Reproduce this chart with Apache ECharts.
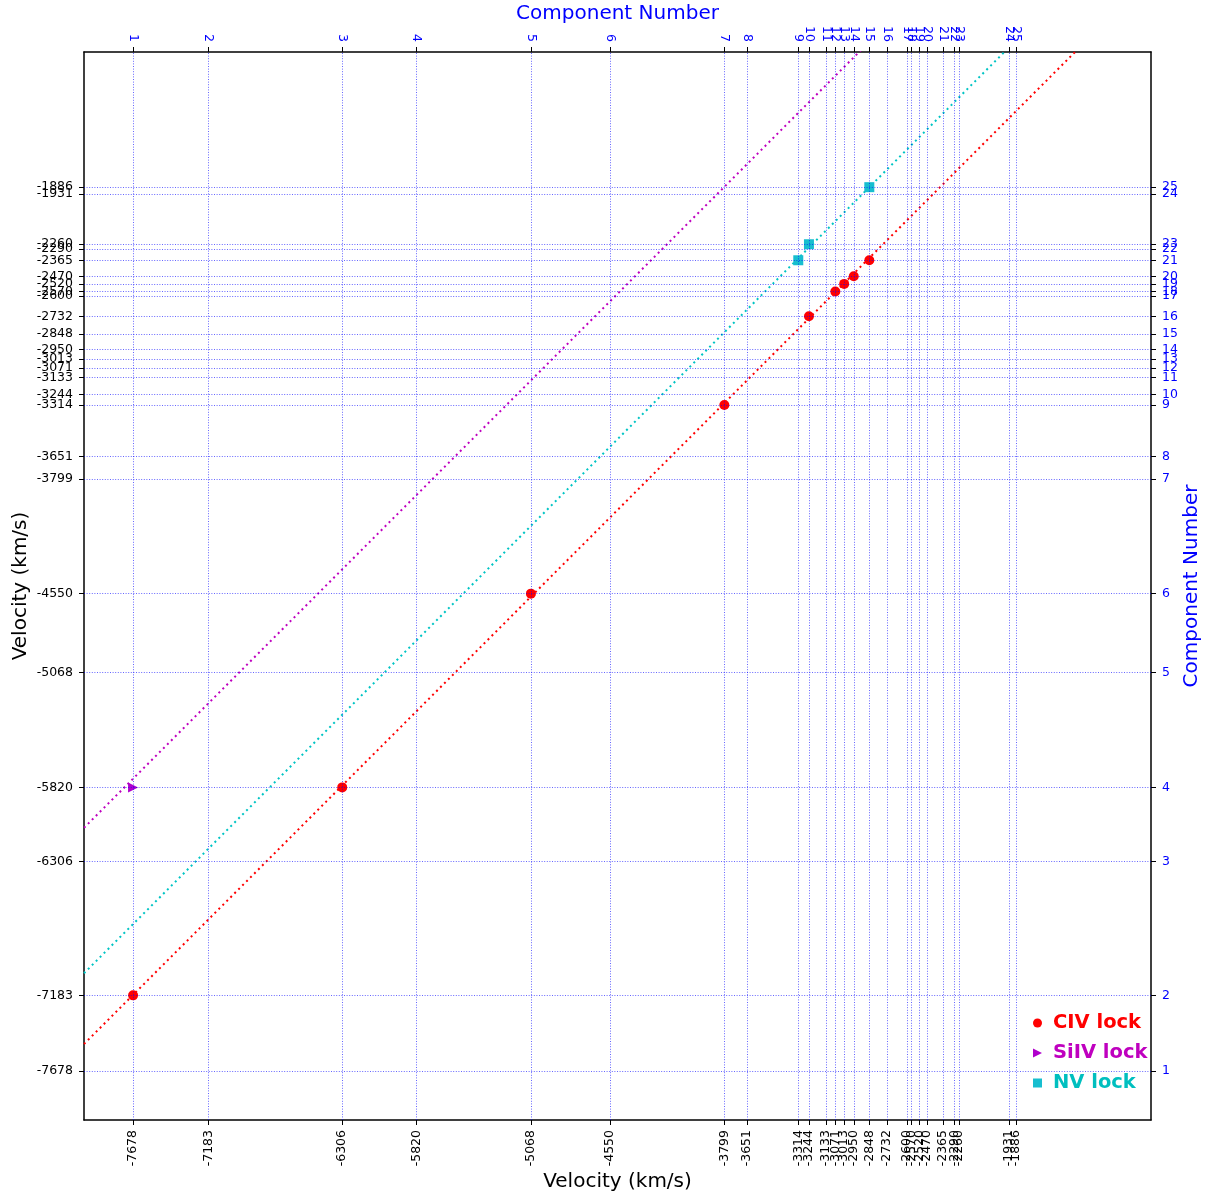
<!DOCTYPE html>
<html>
<head>
<meta charset="utf-8">
<script src="https://cdn.jsdelivr.net/npm/echarts@6/dist/echarts.min.js"></script>
<style>html,body{margin:0;padding:0;background:#fff;}#c{width:1211px;height:1197px;}</style>
</head>
<body>
<div id="c"></div>
<script>
// component velocities (km/s) and their component numbers
var compVelocities = [-7678, -7183, -6306, -5820, -5068, -4550, -3799, -3651, -3314, -3244, -3133, -3071, -3013, -2950, -2848, -2732, -2600, -2570, -2520, -2470, -2365, -2290, -2260, -1931, -1886];
var compNumbers = [1, 2, 3, 4, 5, 6, 7, 8, 9, 10, 11, 12, 13, 14, 15, 16, 17, 18, 19, 20, 21, 22, 23, 24, 25];

// locked pairs (x = blue component velocity, y = red component velocity)
var civX = [-7678, -6306, -5068, -3799, -3244, -3071, -3013, -2950, -2848];
var civY = [-7183, -5820, -4550, -3314, -2732, -2570, -2520, -2470, -2365];
var siivX = [-7678];
var siivY = [-5820];
var nvX = [-3314, -3244, -2848];
var nvY = [-2365, -2260, -1886];

// doublet separations (km/s) for the lock lines y = x + sep
var civSep = 498;
var siivSep = 1915;
var nvSep = 962;

var axisMin = -8000, axisMax = -1000;
var FONT = 'DejaVu Sans';
var TRI = 'path://M0,0 L10,5 L0,10 Z';

// label positions: component velocities plus a blank one at the axis end
// (keeps ECharts from hiding one of the two closely spaced last labels)
var labelValues = compVelocities.concat([axisMax]);

function pairs(xs, ys) { return xs.map(function (x, i) { return [x, ys[i]]; }); }
function lockLine(sep) { return [[axisMin, axisMin + sep], [axisMax, axisMax + sep]]; }
function compLabel(v) { var i = compVelocities.indexOf(v); return i >= 0 ? String(compNumbers[i]) : ' '; }
function velLabel(v) { return compVelocities.indexOf(v) >= 0 ? String(v) : ' '; }

var gridStyle = { color: 'rgba(0,0,255,0.6)', width: 1, type: [1, 1.6] };
var gridMarks = compVelocities.map(function (v) { return { xAxis: v }; })
  .concat(compVelocities.map(function (v) { return { yAxis: v }; }));

var chart = echarts.init(document.getElementById('c'), null, { renderer: 'canvas' });

function axisCommon(extra, label) {
  var base = {
    type: 'value', min: axisMin, max: axisMax,
    splitLine: { show: false },
    axisLine: { show: true, onZero: false, lineStyle: { color: '#000', width: 1.5 } },
    axisTick: { show: true, length: 5, inside: false, customValues: compVelocities, lineStyle: { color: '#000', width: 1 } },
    nameLocation: 'middle',
    nameMoveOverlap: false,
    axisLabel: {
      customValues: labelValues, fontFamily: FONT, fontSize: 12.5,
      hideOverlap: false, showMinLabel: true, showMaxLabel: true
    }
  };
  for (var k in extra) base[k] = extra[k];
  for (var j in label) base.axisLabel[j] = label[j];
  return base;
}

var option = {
  animation: false,
  backgroundColor: '#fff',
  grid: { left: 84, right: 60, top: 52, bottom: 77, containLabel: false, outerBoundsMode: 'none' },
  xAxis: [
    axisCommon({
      position: 'bottom', name: 'Velocity (km/s)', nameGap: 52,
      nameTextStyle: { fontFamily: FONT, fontSize: 20, color: '#000' }
    }, { rotate: 90, margin: 10, color: '#000', formatter: velLabel }),
    axisCommon({
      position: 'top', name: 'Component Number', nameGap: 28,
      nameTextStyle: { fontFamily: FONT, fontSize: 20, color: '#0000ff' }
    }, { rotate: 90, margin: 10, color: '#0000ff', formatter: compLabel })
  ],
  yAxis: [
    axisCommon({
      position: 'left', name: 'Velocity (km/s)', nameGap: 53, nameRotate: 90,
      nameTextStyle: { fontFamily: FONT, fontSize: 20, color: '#000' }
    }, { margin: 11, color: '#000', formatter: velLabel }),
    axisCommon({
      position: 'right', name: 'Component Number', nameGap: 31, nameRotate: 90,
      nameTextStyle: { fontFamily: FONT, fontSize: 20, color: '#0000ff' }
    }, { margin: 11, color: '#0000ff', formatter: compLabel })
  ],
  legend: {
    orient: 'vertical', left: 1033, top: 1013, padding: 0,
    itemWidth: 9, itemHeight: 9, itemGap: 10,
    textStyle: { fontFamily: FONT, fontSize: 19.5, fontWeight: 'bold', padding: [0, 0, 0, 6] },
    data: [
      { name: 'CIV lock', icon: 'circle', itemStyle: { color: '#ff0000' }, textStyle: { color: '#ff0000' } },
      { name: 'SiIV lock', icon: TRI, itemStyle: { color: '#b000cc' }, textStyle: { color: '#bf00bf' } },
      { name: 'NV lock', icon: 'rect', itemStyle: { color: '#17becf' }, textStyle: { color: '#00bfbf' } }
    ]
  },
  series: [
    {
      type: 'scatter', name: 'grid', data: [], silent: true, z: 1,
      markLine: { silent: true, symbol: ['none', 'none'], label: { show: false }, lineStyle: gridStyle, data: gridMarks, animation: false }
    },
    { type: 'line', name: 'civLine', data: lockLine(civSep), showSymbol: false, symbol: 'none', silent: true, clip: true, z: 2,
      lineStyle: { color: '#ff0000', width: 2, type: [2, 3.6] } },
    { type: 'line', name: 'siivLine', data: lockLine(siivSep), showSymbol: false, symbol: 'none', silent: true, clip: true, z: 2,
      lineStyle: { color: '#bf00bf', width: 2, type: [2, 3.6] } },
    { type: 'line', name: 'nvLine', data: lockLine(nvSep), showSymbol: false, symbol: 'none', silent: true, clip: true, z: 2,
      lineStyle: { color: '#00c4c4', width: 2, type: [2, 3.6] } },
    { type: 'scatter', name: 'CIV lock', data: pairs(civX, civY), symbol: 'circle', symbolSize: 10, z: 3,
      itemStyle: { color: '#ff0000', opacity: 1 } },
    { type: 'scatter', name: 'SiIV lock', data: pairs(siivX, siivY), symbol: TRI, symbolSize: 10, z: 3,
      itemStyle: { color: '#b000cc', opacity: 1 } },
    { type: 'scatter', name: 'NV lock', data: pairs(nvX, nvY), symbol: 'rect', symbolSize: 10, z: 3,
      itemStyle: { color: '#17becf', opacity: 1 } }
  ]
};
chart.setOption(option);
</script>
</body>
</html>
